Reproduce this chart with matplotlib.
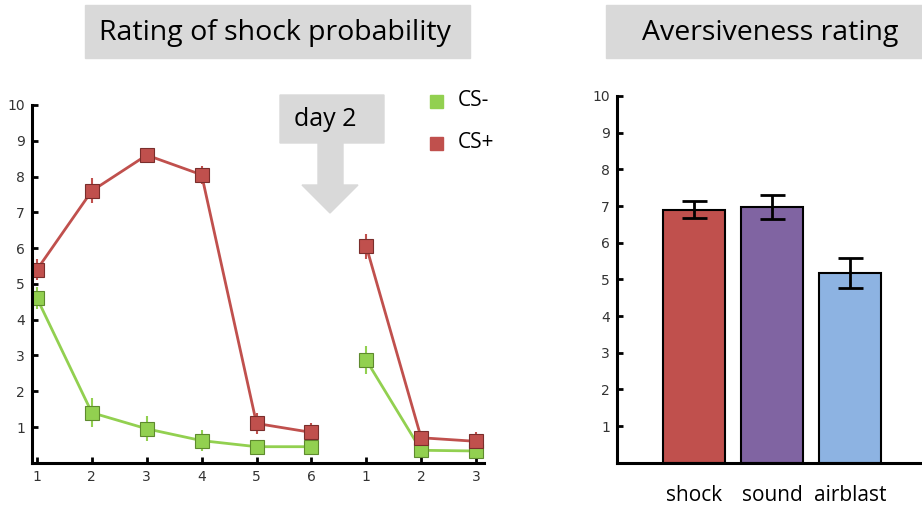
import matplotlib.pyplot as plt
from matplotlib.patches import Rectangle, Polygon

# shock expectancy ratings per trial (day 1: trials 1-6, day 2: trials 1-3)
trial_pos = [1, 2, 3, 4, 5, 6, 7, 8, 9]
trial_labels = ['1', '2', '3', '4', '5', '6', '1', '2', '3']
cs_plus = [5.4, 7.6, 8.6, 8.05, 1.1, 0.85, 6.05, 0.7, 0.6]
cs_plus_err = [0.3, 0.35, 0.15, 0.25, 0.3, 0.25, 0.35, 0.2, 0.25]
cs_minus = [4.6, 1.4, 0.95, 0.62, 0.45, 0.45, 2.87, 0.35, 0.33]
cs_minus_err = [0.3, 0.4, 0.35, 0.3, 0.2, 0.2, 0.4, 0.15, 0.15]

# aversiveness of the unconditioned stimuli
us_names = ['shock', 'sound', 'airblast']
us_rating = [6.9, 6.98, 5.17]
us_err = [0.23, 0.33, 0.41]

green = '#92D050'
red = '#C0504D'
bar_colors = ['#C0504D', '#8064A2', '#8DB3E2']
box_grey = '#D9D9D9'
tick_grey = '#333333'
txt_font = 'Open Sans'

W, H = 922, 512
fig = plt.figure(figsize=(W / 100, H / 100), dpi=100)

def fx(px):
    return px / W

def fy(py):
    return 1 - py / H

def style_axes(ax):
    for s in ['top', 'right']:
        ax.spines[s].set_visible(False)
    for s in ['left', 'bottom']:
        ax.spines[s].set_linewidth(2.2)
    ax.tick_params(direction='in', length=4, width=2, labelsize=10,
                   labelcolor=tick_grey, pad=5)
    ax.set_ylim(0, 10)
    ax.set_yticks(range(1, 11))

# left panel: ratings over trials
ax1 = fig.add_axes([fx(32), fy(462.8), fx(484) - fx(32), (462.8 - 105) / H])
style_axes(ax1)
for seg in (slice(0, 6), slice(6, 9)):
    for vals, errs, col, edge in ((cs_minus, cs_minus_err, green, '#5E8A2E'),
                                  (cs_plus, cs_plus_err, red, '#7A2E2C')):
        ax1.errorbar(trial_pos[seg], vals[seg], yerr=errs[seg], color=col,
                     lw=2, elinewidth=1.5, capsize=0, marker='s', ms=9.5,
                     mfc=col, mec=edge, mew=0.8)
ax1.set_xlim(1 - 5 / 55, 9 + 8 / 55)
ax1.set_xticks(trial_pos)
ax1.set_xticklabels(trial_labels)
ax1.tick_params(axis='y', pad=5)

# right panel: bars
ax2 = fig.add_axes([fx(617), fy(462.7), 1 - fx(617), (462.7 - 96) / H])
style_axes(ax2)
ax2.bar(range(len(us_names)), us_rating, width=62 / 78, color=bar_colors,
        edgecolor='black', linewidth=1.5)
ax2.errorbar(range(len(us_names)), us_rating, yerr=us_err, fmt='none',
             ecolor='black', elinewidth=2, capsize=9, capthick=2)
ax2.set_xlim(-77 / 78, 2 + 72 / 78)
ax2.set_xticks(range(len(us_names)))
ax2.set_xticklabels(us_names, fontsize=15, family=txt_font, color='black')
ax2.tick_params(axis='x', length=0, pad=16)

# grey header boxes
for x0, x1, xc, label in ((85, 470, 275, 'Rating of shock probability'),
                          (606, 922, 770, 'Aversiveness rating')):
    fig.patches.append(Rectangle((fx(x0), fy(58)), fx(x1) - fx(x0), 53 / H,
                                 transform=fig.transFigure, color=box_grey))
    fig.text(fx(xc), fy(33), label, ha='center', va='center', fontsize=20.5,
             family=txt_font, color='black')

# "day 2" arrow
arrow = [(280, 95), (384, 95), (384, 143), (343, 143), (343, 185), (358, 185),
         (330, 213), (302, 185), (318, 185), (318, 143), (280, 143)]
fig.patches.append(Polygon([(fx(a), fy(b)) for a, b in arrow],
                           transform=fig.transFigure, color=box_grey))
fig.text(fx(325), fy(120), 'day 2', ha='center', va='center', fontsize=18,
         family=txt_font)

# legend
for py, col, label in ((101, green, 'CS-'), (143, red, 'CS+')):
    fig.patches.append(Rectangle((fx(430), fy(py + 6.5)), 13 / W, 13 / H,
                                 transform=fig.transFigure, color=col))
    fig.text(fx(458), fy(py), label, ha='left', va='center', fontsize=15,
             family=txt_font)

fig.savefig('out.png', dpi=100, facecolor='white')
